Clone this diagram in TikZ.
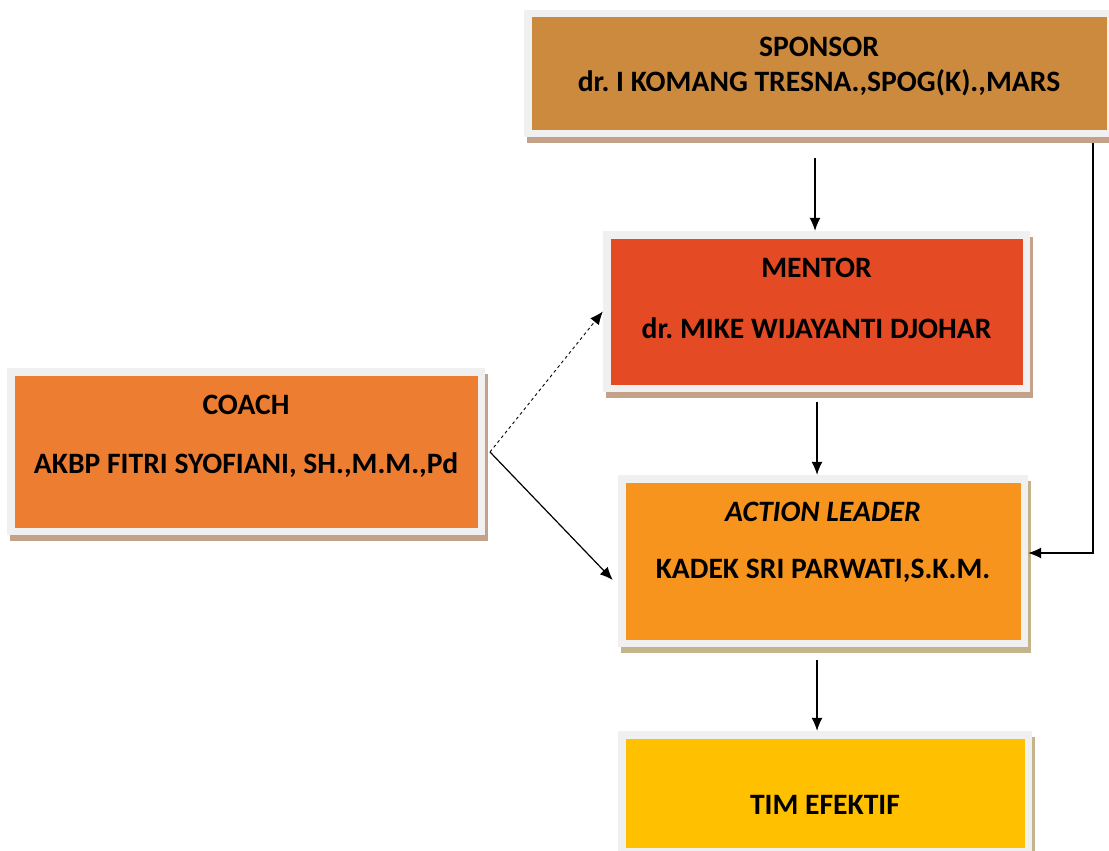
\documentclass[tikz,border=0pt]{standalone}
\usepackage{fontspec}
\setmainfont{Carlito}
\frenchspacing
\usetikzlibrary{arrows.meta,shadows}
\definecolor{framecol}{HTML}{F0F0F0}
\definecolor{shadowA}{HTML}{C4A28A}
\definecolor{shadowB}{HTML}{C4B48C}
\definecolor{sponsorcol}{HTML}{CC8A3F}
\definecolor{mentorcol}{HTML}{E44A23}
\definecolor{coachcol}{HTML}{ED7D31}
\definecolor{actioncol}{HTML}{F7941D}
\definecolor{timcol}{HTML}{FFC000}
\tikzset{
  box/.style n args={4}{draw=none, fill=framecol, inner sep=0pt,
    minimum width=#1, minimum height=#2,
    general shadow={fill=#4, shadow xshift=3pt, shadow yshift=-6pt},
    path picture={\fill[#3] ([shift={(7.5pt,7.5pt)}]path picture bounding box.south west)
      rectangle ([shift={(-7.5pt,-7.5pt)}]path picture bounding box.north east);}},
  txt/.style={font=\fontsize{29.6}{34}\selectfont\bfseries\frenchspacing, inner sep=0pt, anchor=center},
  arr/.style={line width=1.2pt, -{Latex[length=13pt,width=11pt]}},
}
\begin{document}
\begin{tikzpicture}[x=1pt,y=-1pt]
\useasboundingbox (0,0) rectangle (1109,851);
\node[box={590pt}{127pt}{sponsorcol}{shadowA}] (sponsor) at (819,73.5) {};
\node[box={427pt}{161pt}{mentorcol}{shadowA}] (mentor) at (816.5,311.5) {};
\node[box={478pt}{167pt}{coachcol}{shadowA}] (coach) at (246,451.5) {};
\node[box={410pt}{172pt}{actioncol}{shadowB}] (action) at (823,561) {};
\node[box={414pt}{124pt}{timcol}{shadowB}] (tim) at (825,793) {};

\node[txt] (t1) at (819,47) {SPONSOR};
\node[txt] (t2) at (819,83) {dr. I KOMANG TRESNA.,SPOG(K).,MARS};
\node[txt] (t3) at (816.5,268) {MENTOR};
\node[txt] (t4) at (816.5,328) {dr. MIKE WIJAYANTI DJOHAR};
\node[txt] (t5) at (246,405) {COACH};
\node[txt] (t6) at (246,465) {AKBP FITRI SYOFIANI, SH.,M.M.,Pd};
\node[txt] (t7) at (823,512) {\itshape ACTION LEADER};
\node[txt] (t8) at (823,571) {KADEK SRI PARWATI,S.K.M.};
\node[txt] (t9) at (825,805) {TIM EFEKTIF};

\coordinate (s1) at (815,158);
\coordinate (m1) at (817,402);
\coordinate (a1) at (817,660);
\coordinate (sr) at (1093,143);
\coordinate (c1) at (490,452);

\draw[arr] (s1) -- (s1 |- mentor.north);
\draw[arr] (m1) -- (m1 |- action.north);
\draw[arr] (a1) -- (a1 |- tim.north);
\draw[arr] (sr) |- ([yshift=8pt]action.east);
\draw[arr, dashed, line width=0.9pt] (c1) -- (mentor.west);
\draw[arr] (c1) -- ([shift={(-5pt,-19pt)}]action.west);
\end{tikzpicture}
\end{document}
